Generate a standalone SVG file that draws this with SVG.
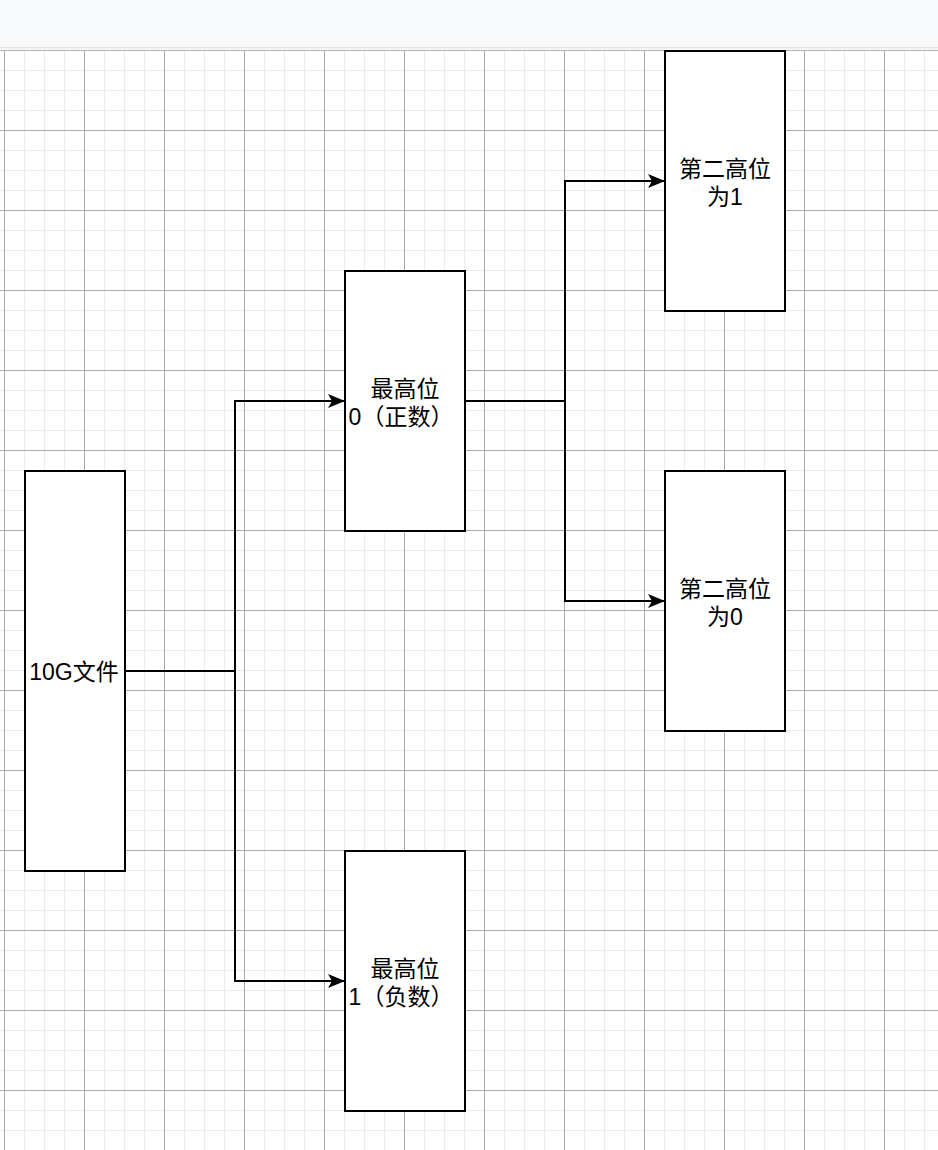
<svg xmlns="http://www.w3.org/2000/svg" width="938" height="1150" viewBox="0 0 938 1150">
  <defs>
    <pattern id="minor" x="4" y="10" width="20" height="20" patternUnits="userSpaceOnUse">
      <path d="M0.5 0V20M0 0.5H20" fill="none" stroke="#ebebeb" stroke-width="1"/>
    </pattern>
    <pattern id="major" x="4" y="50" width="80" height="80" patternUnits="userSpaceOnUse">
      <path d="M0.5 0V80M0 0.5H80" fill="none" stroke="#a9a9a9" stroke-width="1"/>
    </pattern>
    <linearGradient id="barShadow" x1="0" y1="0" x2="0" y2="1">
      <stop offset="0" stop-color="#dcdcdc"/>
      <stop offset="1" stop-color="#ffffff" stop-opacity="0"/>
    </linearGradient>
    <marker id="arrow" viewBox="0 0 17 14" refX="17" refY="7" markerWidth="17" markerHeight="14" markerUnits="userSpaceOnUse" orient="auto">
      <path d="M0 0L17 7L0 14L4 7Z" fill="#000"/>
    </marker>
    <style>
      .box { fill: #ffffff; stroke: #000000; stroke-width: 2; }
      .edge { fill: none; stroke: #000000; stroke-width: 2; }
      .label { font-family: "Liberation Sans", "Noto Sans CJK SC", sans-serif; font-size: 23px; fill: #000000; text-anchor: middle; }
    </style>
  </defs>

  <!-- canvas with grid -->
  <rect x="0" y="0" width="938" height="1150" fill="#ffffff"/>
  <rect x="0" y="50" width="938" height="1100" fill="url(#minor)"/>
  <rect x="0" y="50" width="938" height="1100" fill="url(#major)"/>

  <!-- toolbar strip -->
  <rect x="0" y="0" width="938" height="47" fill="#f8f9fa"/>
  <rect x="0" y="47" width="938" height="4" fill="url(#barShadow)"/>

  <!-- connectors -->
  <g id="connectors">
    <path class="edge" d="M125 671H235V401H345" marker-end="url(#arrow)"/>
    <path class="edge" d="M235 671V981H345" marker-end="url(#arrow)"/>
    <path class="edge" d="M465 401H565V181H665" marker-end="url(#arrow)"/>
    <path class="edge" d="M565 401V601H665" marker-end="url(#arrow)"/>
  </g>

  <!-- nodes -->
  <g id="file10g">
    <rect class="box" x="25" y="471" width="100" height="400"/>
    <text class="label" x="74" y="680">10G文件</text>
  </g>
  <g id="msb0">
    <rect class="box" x="345" y="271" width="120" height="260"/>
    <text class="label" x="405" y="397">最高位</text>
    <text class="label" x="401" y="425">0（正数）</text>
  </g>
  <g id="msb1">
    <rect class="box" x="345" y="851" width="120" height="260"/>
    <text class="label" x="405" y="977">最高位</text>
    <text class="label" x="401" y="1005">1（负数）</text>
  </g>
  <g id="second1">
    <rect class="box" x="665" y="51" width="120" height="260"/>
    <text class="label" x="725" y="177">第二高位</text>
    <text class="label" x="725" y="205">为1</text>
  </g>
  <g id="second0">
    <rect class="box" x="665" y="471" width="120" height="260"/>
    <text class="label" x="725" y="597">第二高位</text>
    <text class="label" x="725" y="625">为0</text>
  </g>
</svg>
